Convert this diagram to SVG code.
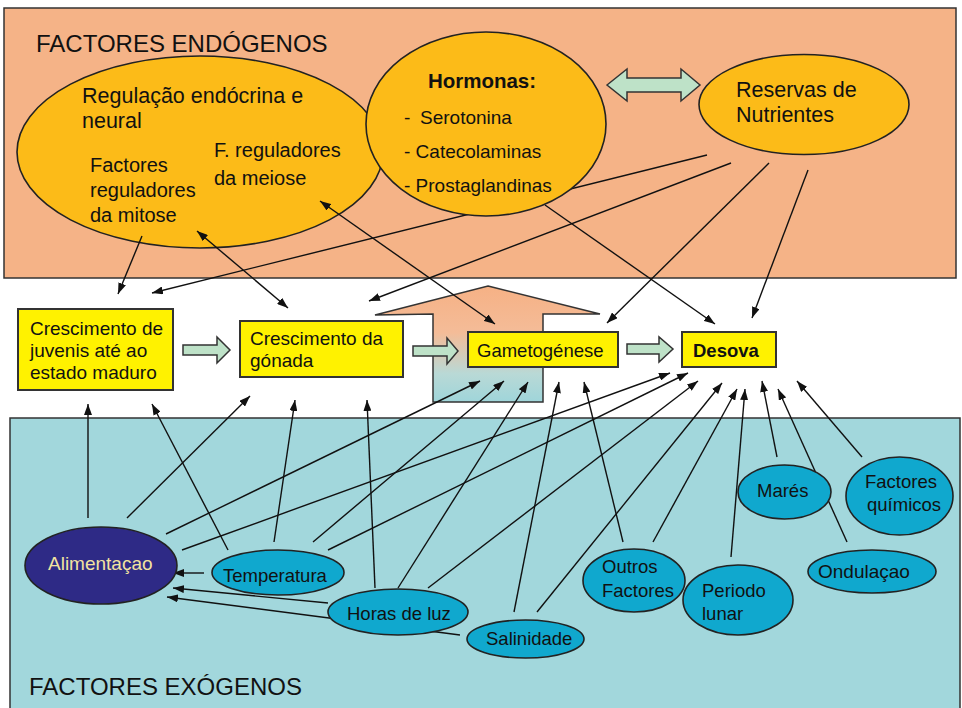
<svg xmlns="http://www.w3.org/2000/svg" width="962" height="708" viewBox="0 0 962 708">
<defs>
<style>
text{font-family:"Liberation Sans",Arial,sans-serif;fill:#111}
.t20{font-size:20px}.t21{font-size:21.5px}.t19{font-size:19px}.t185{font-size:18.5px}
.big{font-size:24px}
.yel{fill:#FCBB18;stroke:#222;stroke-width:1.6}
.cy{fill:#10A8CE;stroke:#222;stroke-width:1.6}
.box{fill:#FFF200;stroke:#333;stroke-width:2}
.ga{fill:#BEE2C8;stroke:#333;stroke-width:1.5}
.c line{stroke:#111;stroke-width:1.4;fill:none}
</style>
<marker id="ah" markerWidth="11" markerHeight="8" refX="11" refY="4" orient="auto-start-reverse" markerUnits="userSpaceOnUse"><path d="M0,0 L11,4 L0,8 z" fill="#111"/></marker>
<linearGradient id="bg" x1="0" y1="286" x2="0" y2="403" gradientUnits="userSpaceOnUse">
<stop offset="0" stop-color="#F6B185"/><stop offset="0.4" stop-color="#F4BC98"/><stop offset="0.75" stop-color="#B9D9D6"/><stop offset="1" stop-color="#9ED5DA"/>
</linearGradient>
</defs>
<rect x="0" y="0" width="962" height="708" fill="#fff"/>
<g id="endogenos">
<rect x="4" y="8" width="952" height="270" fill="#F5B387" stroke="#333" stroke-width="1.5"/>
<text class="big" x="36" y="52">FACTORES ENDÓGENOS</text>
</g>
<g id="exogenos">
<rect x="10" y="418" width="950" height="300" fill="#A2D7DC" stroke="#333" stroke-width="1.5"/>
<text class="big" x="29" y="695">FACTORES EXÓGENOS</text>
</g>
<g id="bigarrow">
<polygon points="488,286 600,314 543,314 543,402 433,402 433,314 375,315" fill="url(#bg)" stroke="#333" stroke-width="1.5"/>
</g>
<g id="regulacao">
<ellipse class="yel" cx="200" cy="152" rx="183" ry="96"/>
<text class="t21" x="82" y="103">Regulação endócrina e</text>
<text class="t21" x="82" y="128">neural</text>
<text class="t20" x="90" y="172">Factores</text>
<text class="t20" x="90" y="197">reguladores</text>
<text class="t20" x="90" y="222">da mitose</text>
<text class="t20" x="214" y="157">F. reguladores</text>
<text class="t20" x="214" y="185">da meiose</text>
</g>
<g id="connectors" class="c">
<line x1="142" y1="236" x2="118" y2="294" marker-end="url(#ah)"/>
<line x1="707" y1="155" x2="152" y2="293" marker-end="url(#ah)"/>
<line x1="197" y1="231" x2="288" y2="308" marker-start="url(#ah)" marker-end="url(#ah)"/>
<line x1="320" y1="201" x2="495" y2="324" marker-start="url(#ah)" marker-end="url(#ah)"/>
<line x1="731" y1="163" x2="369" y2="301" marker-end="url(#ah)"/>
<line x1="545" y1="205" x2="715" y2="324" marker-end="url(#ah)"/>
<line x1="769" y1="163" x2="607" y2="323" marker-end="url(#ah)"/>
<line x1="808" y1="170" x2="752" y2="318" marker-end="url(#ah)"/>
<line x1="88" y1="518" x2="88" y2="404" marker-end="url(#ah)"/>
<line x1="228" y1="550" x2="152" y2="404" marker-end="url(#ah)"/>
<line x1="127" y1="518" x2="250" y2="396" marker-end="url(#ah)"/>
<line x1="274" y1="542" x2="295" y2="400" marker-end="url(#ah)"/>
<line x1="375" y1="588" x2="367" y2="400" marker-end="url(#ah)"/>
<line x1="166" y1="534" x2="480" y2="381" marker-end="url(#ah)"/>
<line x1="313" y1="542" x2="504" y2="381" marker-end="url(#ah)"/>
<line x1="398" y1="588" x2="528" y2="382" marker-end="url(#ah)"/>
<line x1="514" y1="612" x2="559" y2="382" marker-end="url(#ah)"/>
<line x1="623" y1="542" x2="584" y2="382" marker-end="url(#ah)"/>
<line x1="182" y1="550" x2="670" y2="373" marker-end="url(#ah)"/>
<line x1="328" y1="550" x2="688" y2="373" marker-end="url(#ah)"/>
<line x1="428" y1="588" x2="698" y2="381" marker-end="url(#ah)"/>
<line x1="537" y1="612" x2="722" y2="383" marker-end="url(#ah)"/>
<line x1="653" y1="542" x2="737" y2="389" marker-end="url(#ah)"/>
<line x1="731" y1="557" x2="745" y2="389" marker-end="url(#ah)"/>
<line x1="777" y1="457" x2="762" y2="381" marker-end="url(#ah)"/>
<line x1="847" y1="542" x2="778" y2="389" marker-end="url(#ah)"/>
<line x1="862" y1="457" x2="797" y2="381" marker-end="url(#ah)"/>
<line x1="204" y1="573" x2="173" y2="573" marker-end="url(#ah)"/>
<line x1="328" y1="603" x2="173" y2="588" marker-end="url(#ah)"/>
<line x1="460" y1="635" x2="167" y2="597" marker-end="url(#ah)"/>
<polygon class="ga" points="607,85 627,69 627,78 681,78 681,69 700,85 681,101 681,92 627,92 627,101"/>
<polygon class="ga" points="183,345 217,345 217,337 230,350 217,363 217,355 183,355"/>
<polygon class="ga" points="413,346 447,346 447,338 458,351 447,364 447,356 413,356"/>
<polygon class="ga" points="627,344 659,344 659,337 673,349 659,362 659,354 627,354"/>
</g>
<g id="hormonas">
<ellipse class="yel" cx="486" cy="124" rx="120" ry="92"/>
<text x="482" y="88" font-size="20.5" font-weight="bold" text-anchor="middle">Hormonas:</text>
<text class="t19" y="124"><tspan x="404">-</tspan><tspan x="420">Serotonina</tspan></text>
<text class="t19" x="404" y="158">- Catecolaminas</text>
<text class="t19" x="404" y="192">- Prostaglandinas</text>
</g>
<g id="reservas">
<ellipse class="yel" cx="804" cy="104.5" rx="105" ry="50"/>
<text class="t21" x="736" y="97">Reservas de</text>
<text class="t21" x="736" y="122">Nutrientes</text>
</g>
<g id="crescimento-juvenis">
<rect class="box" x="18" y="309" width="155" height="81"/>
<text class="t19" x="30" y="335">Crescimento de</text>
<text class="t19" x="30" y="357">juvenis até ao</text>
<text class="t19" x="30" y="379">estado maduro</text>
</g>
<g id="crescimento-gonada">
<rect class="box" x="240" y="321" width="163" height="56"/>
<text class="t19" x="250" y="345">Crescimento da</text>
<text class="t19" x="250" y="367">gónada</text>
</g>
<g id="gametogenese">
<rect class="box" x="468" y="332" width="150" height="35"/>
<text class="t185" x="477" y="357">Gametogénese</text>
</g>
<g id="desova">
<rect class="box" x="682" y="332" width="94" height="35"/>
<text x="693" y="357" font-size="18.5" font-weight="bold">Desova</text>
</g>
<g id="alimentacao">
<ellipse cx="101" cy="565.5" rx="76" ry="38.5" fill="#2E2A86" stroke="#222" stroke-width="1.6"/>
<text class="t19" x="48" y="570" style="fill:#F2E3A0">Alimentaçao</text>
</g>
<g id="temperatura">
<ellipse class="cy" cx="278" cy="572.5" rx="66" ry="22.5"/>
<text class="t185" x="223" y="582">Temperatura</text>
</g>
<g id="horas-luz">
<ellipse class="cy" cx="398" cy="612" rx="70" ry="23"/>
<text class="t185" x="347" y="620">Horas de luz</text>
</g>
<g id="salinidade">
<ellipse class="cy" cx="525.5" cy="639" rx="58.5" ry="19"/>
<text class="t185" x="486" y="645">Salinidade</text>
</g>
<g id="outros-factores">
<ellipse class="cy" cx="634" cy="580.5" rx="51" ry="31.5"/>
<text class="t185" x="602" y="573">Outros</text>
<text class="t185" x="602" y="597">Factores</text>
</g>
<g id="periodo-lunar">
<ellipse class="cy" cx="738" cy="600" rx="55" ry="35"/>
<text class="t185" x="702" y="597">Periodo</text>
<text class="t185" x="702" y="620">lunar</text>
</g>
<g id="mares">
<ellipse class="cy" cx="784.5" cy="492" rx="46.5" ry="27"/>
<text class="t185" x="757" y="497">Marés</text>
</g>
<g id="factores-quimicos">
<ellipse class="cy" cx="899.5" cy="496" rx="53.5" ry="39"/>
<text class="t185" x="865" y="488">Factores</text>
<text class="t185" x="867" y="511">químicos</text>
</g>
<g id="ondulacao">
<ellipse class="cy" cx="872" cy="571.5" rx="64" ry="21.5"/>
<text class="t19" x="818" y="578">Ondulaçao</text>
</g>
</svg>
